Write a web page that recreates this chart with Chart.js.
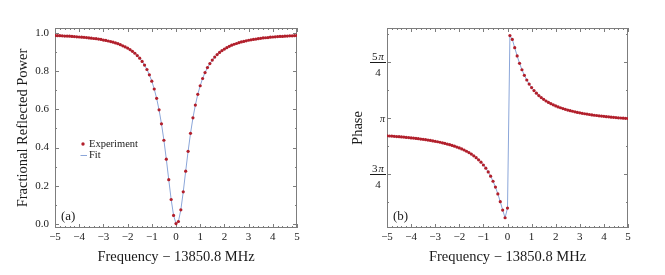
<!DOCTYPE html>
<html>
<head>
<meta charset="utf-8">
<script src="https://cdn.jsdelivr.net/npm/chart.js@4.4.0/dist/chart.umd.min.js"></script>
<style>
  html, body { margin: 0; padding: 0; background: #fff; }
  #wrap { position: relative; width: 665px; height: 275px; }
  canvas { position: absolute; top: 0; }
  #chart-a { left: 0; }
  #chart-b { left: 332px; }
</style>
</head>
<body>
<div id="wrap">
  <canvas id="chart-a" width="332" height="275"></canvas>
  <canvas id="chart-b" width="333" height="275"></canvas>
</div>
<script>
'use strict';

// Data (frequency offset in MHz)
let freqs = [
  -5, -4.9, -4.8, -4.7, -4.6, -4.5, -4.4, -4.3, -4.2, -4.1,
  -4, -3.9, -3.8, -3.7, -3.6, -3.5, -3.4, -3.3, -3.2, -3.1,
  -3, -2.9, -2.8, -2.7, -2.6, -2.5, -2.4, -2.3, -2.2, -2.1,
  -2, -1.9, -1.8, -1.7, -1.6, -1.5, -1.4, -1.3, -1.2, -1.1,
  -1, -0.9, -0.8, -0.7, -0.6, -0.5, -0.4, -0.3, -0.2, -0.1,
  0,
  0.1, 0.2, 0.3, 0.4, 0.5, 0.6, 0.7, 0.8, 0.9, 1,
  1.1, 1.2, 1.3, 1.4, 1.5, 1.6, 1.7, 1.8, 1.9, 2,
  2.1, 2.2, 2.3, 2.4, 2.5, 2.6, 2.7, 2.8, 2.9, 3,
  3.1, 3.2, 3.3, 3.4, 3.5, 3.6, 3.7, 3.8, 3.9, 4,
  4.1, 4.2, 4.3, 4.4, 4.5, 4.6, 4.7, 4.8, 4.9, 5
];

// fractional reflected power
let power = [
  0.986, 0.985, 0.985, 0.984, 0.983, 0.983, 0.982, 0.981, 0.980, 0.979,
  0.978, 0.977, 0.976, 0.975, 0.973, 0.972, 0.970, 0.969, 0.967, 0.965,
  0.962, 0.960, 0.957, 0.954, 0.951, 0.947, 0.943, 0.938, 0.932, 0.926,
  0.920, 0.912, 0.903, 0.893, 0.881, 0.867, 0.850, 0.831, 0.808, 0.780,
  0.747, 0.706, 0.657, 0.597, 0.524, 0.438, 0.339, 0.232, 0.128, 0.045,
  0.002,
  0.013, 0.074, 0.168, 0.276, 0.380, 0.474, 0.555, 0.622, 0.678, 0.723,
  0.761, 0.792, 0.818, 0.839, 0.857, 0.873, 0.886, 0.897, 0.907, 0.915,
  0.922, 0.929, 0.935, 0.940, 0.944, 0.948, 0.952, 0.955, 0.958, 0.961,
  0.963, 0.965, 0.967, 0.969, 0.971, 0.973, 0.974, 0.975, 0.977, 0.978,
  0.979, 0.980, 0.981, 0.981, 0.982, 0.983, 0.984, 0.984, 0.985, 0.986
];

// phase in radians
let phase = [
  2.896, 2.893, 2.891, 2.888, 2.885, 2.883, 2.880, 2.877, 2.873, 2.870,
  2.866, 2.863, 2.859, 2.855, 2.850, 2.846, 2.841, 2.836, 2.830, 2.824,
  2.818, 2.812, 2.805, 2.797, 2.789, 2.780, 2.771, 2.761, 2.750, 2.738,
  2.726, 2.711, 2.696, 2.679, 2.660, 2.639, 2.615, 2.589, 2.559, 2.525,
  2.486, 2.441, 2.389, 2.329, 2.258, 2.176, 2.080, 1.971, 1.854, 1.746,
  1.882,
  4.301, 4.247, 4.131, 4.016, 3.912, 3.822, 3.744, 3.678, 3.621, 3.572,
  3.530, 3.493, 3.460, 3.432, 3.407, 3.384, 3.364, 3.346, 3.330, 3.315,
  3.301, 3.289, 3.277, 3.267, 3.257, 3.248, 3.240, 3.232, 3.224, 3.218,
  3.211, 3.205, 3.200, 3.194, 3.189, 3.184, 3.180, 3.176, 3.172, 3.168,
  3.164, 3.161, 3.157, 3.154, 3.151, 3.148, 3.145, 3.143, 3.140, 3.138
];

// Ticks
let freqTicks = [-5, -4, -3, -2, -1, 0, 1, 2, 3, 4, 5];
let powerTicks = [0, 0.2, 0.4, 0.6, 0.8, 1.0];
let phaseTicks = [3 * Math.PI / 4, Math.PI, 5 * Math.PI / 4];
let phaseLabels = ['3π/4', 'π', '5π/4'];

// Style stuff
const red = '#b21f2b';
const blue = '#8ba6d9';
const frameColor = '#7d7d7d';
const textColor = '#1a1a1a';
const serif = "'Liberation Serif', 'DejaVu Serif', serif";

function pts(ys) {
  return freqs.map((f, i) => ({ x: f, y: ys[i] }));
}

function fmtFreq(v) {
  return v < 0 ? '\u2212' + Math.abs(v) : String(v);
}

// frame with inward ticks on all four sides (drawn under the data)
const frameTicks = {
  id: 'frameTicks',
  beforeDatasetsDraw(chart, args, opts) {
    const { ctx, chartArea: a, scales: { x, y } } = chart;
    ctx.save();
    ctx.strokeStyle = frameColor;
    ctx.lineWidth = 1;
    ctx.strokeRect(a.left + 0.5, a.top + 0.5, a.right - a.left - 1, a.bottom - a.top - 1);
    ctx.beginPath();
    for (let i = -25; i <= 25; i++) {
      let px = Math.round(x.getPixelForValue(i / 5)) + 0.5;
      let len = i % 5 === 0 ? 4 : 2;
      ctx.moveTo(px, a.bottom);
      ctx.lineTo(px, a.bottom - len);
      ctx.moveTo(px, a.top);
      ctx.lineTo(px, a.top + len);
    }
    let step = opts.yMinor;
    let first = Math.ceil(y.min / step - 1e-9);
    let last = Math.floor(y.max / step + 1e-9);
    for (let k = first; k <= last; k++) {
      let v = k * step;
      let py = Math.round(y.getPixelForValue(v)) + 0.5;
      let major = opts.yMajor.some(t => Math.abs(t - v) < 1e-6);
      let len = major ? 4 : 2;
      ctx.moveTo(a.left, py);
      ctx.lineTo(a.left + len, py);
      ctx.moveTo(a.right, py);
      ctx.lineTo(a.right - len, py);
    }
    ctx.stroke();
    ctx.restore();
  }
};

// panel letter, legend and fraction labels
const extras = {
  id: 'extras',
  afterDraw(chart, args, opts) {
    const { ctx, chartArea: a, scales: { y } } = chart;
    ctx.save();
    ctx.fillStyle = textColor;
    ctx.font = '13px ' + serif;
    ctx.textAlign = 'left';
    ctx.textBaseline = 'alphabetic';
    ctx.fillText(opts.panel, a.left + 6, a.bottom - 8);

    if (opts.legend) {
      ctx.font = '10.5px ' + serif;
      ctx.textBaseline = 'middle';
      ctx.fillStyle = red;
      ctx.beginPath();
      ctx.arc(a.left + 28, a.top + 116, 1.7, 0, Math.PI * 2);
      ctx.fill();
      ctx.strokeStyle = blue;
      ctx.lineWidth = 1;
      ctx.beginPath();
      ctx.moveTo(a.left + 25.5, a.top + 127.5);
      ctx.lineTo(a.left + 32, a.top + 127.5);
      ctx.stroke();
      ctx.fillStyle = textColor;
      ctx.fillText('Experiment', a.left + 34, a.top + 116.5);
      ctx.fillText('Fit', a.left + 34, a.top + 127.5);
    }

    if (opts.fractions) {
      phaseTicks.forEach((v, i) => {
        let py = Math.round(y.getPixelForValue(v));
        let parts = phaseLabels[i].split('/');
        if (parts.length === 1) {
          ctx.font = 'italic 10px ' + serif;
          ctx.textAlign = 'right';
          ctx.textBaseline = 'middle';
          ctx.fillText(parts[0], a.left - 2, py + 1);
          return;
        }
        let cx = a.left - 9;
        ctx.strokeStyle = textColor;
        ctx.lineWidth = 1;
        ctx.beginPath();
        ctx.moveTo(a.left - 17, py + 0.5);
        ctx.lineTo(a.left - 1, py + 0.5);
        ctx.stroke();
        let digit = parts[0].replace('π', '');
        ctx.textBaseline = 'alphabetic';
        ctx.textAlign = 'left';
        ctx.font = '11px ' + serif;
        let wd = ctx.measureText(digit).width + 1;
        ctx.font = 'italic 10.5px ' + serif;
        let wp = ctx.measureText('π').width;
        let x0 = cx - (wd + wp) / 2;
        ctx.font = '11px ' + serif;
        ctx.fillText(digit, x0, py - 2);
        ctx.font = 'italic 10.5px ' + serif;
        ctx.fillText('π', x0 + wd, py - 2);
        ctx.font = '11px ' + serif;
        ctx.textAlign = 'center';
        ctx.fillText(parts[1], cx, py + 14);
      });
    }
    ctx.restore();
  }
};

function makeChart(canvasId, ys, yScale, extraOpts, rightPad) {
  let canvasElem = document.getElementById(canvasId);
  return new Chart(canvasElem, {
    type: 'scatter',
    data: {
      datasets: [{
        label: 'Experiment',
        data: pts(ys),
        showLine: false,
        pointRadius: 1.6,
        pointBorderWidth: 0,
        pointBackgroundColor: red,
        pointBorderColor: red
      }, {
        label: 'Fit',
        data: pts(ys),
        showLine: true,
        borderColor: blue,
        borderWidth: 1,
        pointRadius: 0,
        tension: 0
      }]
    },
    options: {
      responsive: false,
      animation: false,
      devicePixelRatio: 1,
      layout: { padding: { left: 0, top: 28, right: rightPad, bottom: 0 } },
      plugins: {
        legend: { display: false },
        tooltip: { enabled: false },
        frameTicks: { yMinor: extraOpts.yMinor, yMajor: extraOpts.yMajor },
        extras: extraOpts
      },
      scales: {
        x: {
          type: 'linear',
          min: -5,
          max: 5,
          afterBuildTicks: s => { s.ticks = freqTicks.map(v => ({ value: v })); },
          afterFit: s => { s.height = 47; },
          grid: { display: false, drawTicks: false },
          border: { display: false },
          ticks: {
            autoSkip: false,
            maxRotation: 0,
            padding: 3,
            color: textColor,
            font: { family: serif, size: 11 },
            callback: v => fmtFreq(v)
          },
          title: {
            display: true,
            text: 'Frequency \u2212 13850.8 MHz',
            color: textColor,
            font: { family: serif, size: 14.5 },
            padding: { top: 0, bottom: 9 }
          }
        },
        y: yScale
      }
    },
    plugins: [frameTicks, extras]
  });
}

// panel (a)
makeChart('chart-a', power, {
  type: 'linear',
  min: -0.021,
  max: 1.025,
  afterBuildTicks: s => { s.ticks = powerTicks.map(v => ({ value: v })); },
  afterFit: s => { s.width = 55; },
  grid: { display: false, drawTicks: false },
  border: { display: false },
  ticks: {
    padding: 6,
    color: textColor,
    font: { family: serif, size: 11 },
    callback: v => v.toFixed(1)
  },
  title: {
    display: true,
    text: 'Fractional Reflected Power',
    color: textColor,
    font: { family: serif, size: 14.5 },
    padding: { top: 14, bottom: 0 }
  }
}, { panel: '(a)', legend: true, yMinor: 0.1, yMajor: powerTicks }, 35);

// panel (b)
makeChart('chart-b', phase, {
  type: 'linear',
  min: 0.51 * Math.PI,
  max: 1.403 * Math.PI,
  afterBuildTicks: s => { s.ticks = phaseTicks.map(v => ({ value: v })); },
  afterFit: s => { s.width = 55; },
  grid: { display: false, drawTicks: false },
  border: { display: false },
  ticks: { display: false },
  title: {
    display: true,
    text: 'Phase',
    color: textColor,
    font: { family: serif, size: 14.5 },
    padding: { top: 17, bottom: 0 }
  }
}, { panel: '(b)', fractions: true, yMinor: Math.PI / 8, yMajor: phaseTicks }, 37);
</script>
</body>
</html>
